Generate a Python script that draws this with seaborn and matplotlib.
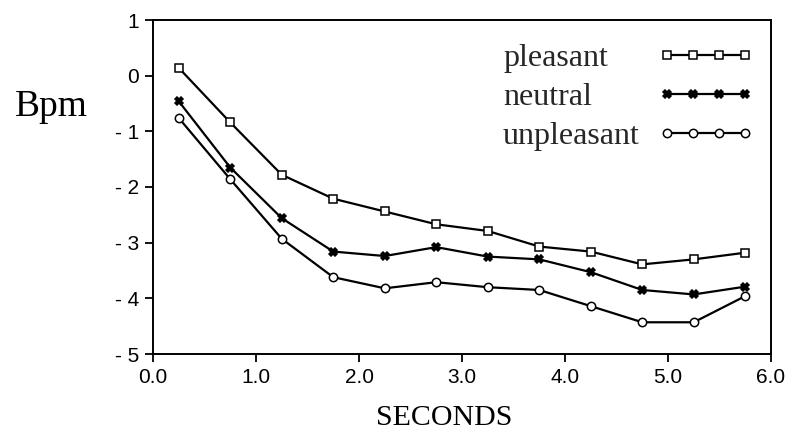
import matplotlib
matplotlib.use("Agg")
import matplotlib.pyplot as plt
from matplotlib.lines import Line2D
from matplotlib.legend_handler import HandlerLine2D
import seaborn as sns

seconds = [0.25, 0.75, 1.25, 1.75, 2.25, 2.75, 3.25, 3.75, 4.25, 4.75, 5.25, 5.75]
pleasant = [0.14, -0.84, -1.78, -2.21, -2.44, -2.67, -2.79, -3.07, -3.16, -3.39, -3.30, -3.18]
neutral = [-0.46, -1.65, -2.56, -3.16, -3.24, -3.08, -3.25, -3.30, -3.53, -3.85, -3.93, -3.79]
unpleasant = [-0.76, -1.86, -2.93, -3.62, -3.82, -3.71, -3.80, -3.85, -4.14, -4.43, -4.43, -3.96]

xticks = [0, 1, 2, 3, 4, 5, 6]
xticklabels = ["0.0", "1.0", "2.0", "3.0", "4.0", "5.0", "6.0"]
yticks = [1, 0, -1, -2, -3, -4, -5]
yticklabels = ["1", "0", "- 1", "- 2", "- 3", "- 4", "- 5"]

sns.set_theme(style="ticks")
plt.rcParams['font.family'] = ['Liberation Sans', 'DejaVu Sans']

fig = plt.figure(figsize=(7.87, 4.34), dpi=100)
ax = fig.add_axes([153/787, 1 - 354/434, (771-153)/787, (354-20)/434])

common = dict(color="black", linewidth=1.6, markersize=6, markeredgewidth=1.1)
sns.lineplot(x=seconds, y=pleasant, ax=ax, marker="s", markerfacecolor="white",
             markeredgecolor="black", label="pleasant", **common)
sns.lineplot(x=seconds, y=neutral, ax=ax, marker="X", markerfacecolor="black",
             markeredgecolor="black", label="neutral", **common)
sns.lineplot(x=seconds, y=unpleasant, ax=ax, marker="o", markerfacecolor="white",
             markeredgecolor="black", label="unpleasant", **common)

ax.set_xlim(0, 6)
ax.set_ylim(-5, 1)
ax.set_xticks(xticks)
ax.set_xticklabels(xticklabels)
ax.set_yticks(yticks)
ax.set_yticklabels(yticklabels)
ax.tick_params(axis="both", direction="out", length=6, width=1.3, labelsize=15,
               colors="black", pad=4)
ax.tick_params(top=False, right=False)
for s in ax.spines.values():
    s.set_visible(True)
    s.set_linewidth(1.4)
    s.set_color("black")
ax.set_xlabel("")
ax.set_ylabel("")

handles, labels = ax.get_legend_handles_labels()
if ax.get_legend():
    ax.get_legend().remove()

legprops = {"family": "Liberation Serif", "size": 23}
blank = [Line2D([], [], linestyle="none") for _ in labels]
top = 1 - 44/434
# text column (left aligned)
leg_text = ax.legend(blank, labels, loc="upper left",
                     bbox_to_anchor=(503/787, top), bbox_transform=fig.transFigure,
                     frameon=False, prop=legprops, handlelength=0, handletextpad=0,
                     labelspacing=0.3, borderaxespad=0.0, borderpad=0.0)
ax.add_artist(leg_text)
# handle column
leg_h = ax.legend(handles, ["", "", ""], loc="upper left",
                  bbox_to_anchor=(667/787, top), bbox_transform=fig.transFigure,
                  frameon=False, prop=legprops, numpoints=4,
                  handlelength=2.45, handletextpad=0.0, labelspacing=0.3,
                  borderaxespad=0.0, borderpad=0.0,
                  handler_map={Line2D: HandlerLine2D(marker_pad=0.0, numpoints=4)})

fig.text(15/787, 1 - 107/434, "Bpm", family="Liberation Serif", fontsize=27,
         ha="left", va="center", color="black")
fig.text(444/787, 1 - 418/434, "SECONDS", family="Liberation Serif", fontsize=21.5,
         ha="center", va="center", color="black")

fig.savefig("out.png", dpi=100, facecolor="white")
